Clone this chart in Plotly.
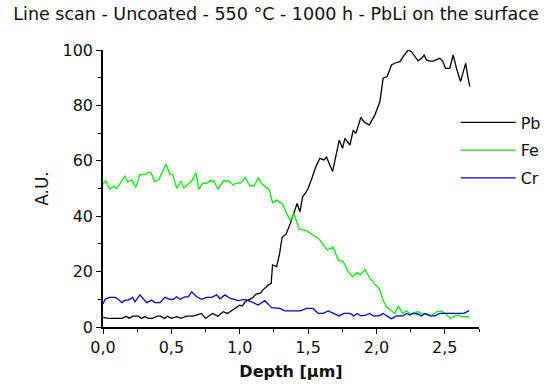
import plotly.graph_objects as go

# ---- Data ----
depth_pb = [0.00, 0.03, 0.07, 0.11, 0.14, 0.17, 0.19, 0.22, 0.26, 0.28, 0.31, 0.33, 0.36, 0.40,
            0.42, 0.45, 0.47, 0.50, 0.54, 0.57, 0.61, 0.66, 0.72, 0.75, 0.78, 0.80, 0.84, 0.88,
            0.91, 0.93, 0.94, 0.96, 1.00, 1.02, 1.04, 1.06, 1.09, 1.12, 1.15, 1.17, 1.21, 1.23,
            1.24, 1.27, 1.29, 1.31, 1.34, 1.37, 1.40, 1.42, 1.44, 1.46, 1.48, 1.50, 1.53, 1.557,
            1.586, 1.615, 1.635, 1.679, 1.728, 1.752, 1.769, 1.806, 1.83, 1.85, 1.886, 1.908,
            1.947, 1.988, 2.025, 2.049, 2.078, 2.11, 2.142, 2.171, 2.195, 2.232, 2.256, 2.28,
            2.305, 2.33, 2.349, 2.366, 2.386, 2.415, 2.44, 2.463, 2.483, 2.505, 2.536, 2.561,
            2.585, 2.615, 2.639, 2.653, 2.666, 2.683]
pb = [3.5, 3.2, 3.1, 3.1, 3.1, 3.9, 3.2, 3.9, 3.9, 3.1, 3.7, 3.1, 3.1, 3.9,
      3.9, 3.1, 3.9, 3.1, 3.7, 3.1, 3.9, 3.9, 4.9, 3.1, 4.3, 4.9, 3.9, 5.5,
      4.9, 5.5, 6.0, 6.7, 7.9, 7.6, 9.1, 9.7, 10.4, 11.9, 12.2, 13.4, 15.2, 15.7,
      22.4, 21.8, 26.0, 32.4, 33.6, 37.4, 41.6, 44.6, 41.6, 47.0, 48.3, 50.0, 54.0, 57.9,
      60.9, 60.3, 61.3, 56.1, 67.5, 64.5, 68.1, 65.7, 71.1, 69.9, 75.7, 74.1,
      72.9, 76.5, 81.3, 89.8, 90.4, 94.6, 95.4, 95.8, 97.6, 100.0, 99.4, 97.8,
      96.1, 97.0, 98.2, 96.4, 96.0, 96.0, 96.6, 97.0, 96.1, 93.4, 93.4, 98.2,
      93.4, 88.6, 92.8, 95.2, 91.0, 86.8]

depth_fe = [0.00, 0.02, 0.05, 0.08, 0.10, 0.16, 0.18, 0.21, 0.24, 0.27, 0.31, 0.33, 0.35, 0.38,
            0.41, 0.46, 0.49, 0.51, 0.54, 0.57, 0.59, 0.62, 0.65, 0.68, 0.70, 0.73, 0.76, 0.78,
            0.81, 0.84, 0.88, 0.92, 0.95, 0.98, 1.01, 1.04, 1.075, 1.106, 1.135, 1.164, 1.197,
            1.216, 1.24, 1.27, 1.314, 1.343, 1.372, 1.396, 1.435, 1.489, 1.537, 1.581, 1.64,
            1.683, 1.72, 1.757, 1.793, 1.825, 1.859, 1.884, 1.915, 1.952, 1.988, 2.025, 2.049,
            2.074, 2.098, 2.135, 2.159, 2.191, 2.22, 2.249, 2.273, 2.305, 2.337, 2.371, 2.403,
            2.44, 2.476, 2.507, 2.544, 2.573, 2.597, 2.634, 2.678]
fe = [51.6, 52.8, 49.7, 50.9, 49.9, 54.6, 52.3, 53.1, 50.4, 55.0, 55.0, 55.8, 55.8, 52.5,
      53.3, 58.8, 55.2, 54.9, 50.1, 52.7, 50.1, 51.3, 52.8, 55.7, 49.7, 51.9, 51.9, 52.8,
      52.8, 49.7, 52.7, 52.7, 51.3, 51.9, 52.1, 53.9, 51.0, 51.0, 53.9, 51.6, 50.1,
      49.5, 44.9, 45.8, 44.4, 41.0, 38.4, 41.0, 35.3, 34.8, 33.2, 31.7, 27.8,
      28.8, 24.2, 23.6, 20.0, 18.2, 19.6, 18.8, 20.8, 17.6, 15.5, 13.4, 9.5,
      7.3, 6.4, 4.9, 7.6, 4.9, 5.8, 4.7, 5.2, 5.5, 4.7, 4.7, 4.1,
      5.5, 5.8, 4.7, 3.0, 4.0, 4.3, 3.7, 3.7]

depth_cr = [0.00, 0.015, 0.046, 0.088, 0.112, 0.137, 0.161, 0.185, 0.217, 0.234, 0.27, 0.295,
            0.319, 0.356, 0.38, 0.417, 0.453, 0.49, 0.514, 0.539, 0.563, 0.599, 0.624, 0.648,
            0.685, 0.722, 0.758, 0.795, 0.831, 0.855, 0.892, 0.928, 0.989, 1.038, 1.087, 1.135,
            1.184, 1.233, 1.294, 1.33, 1.44, 1.489, 1.537, 1.574, 1.61, 1.647, 1.689, 1.727,
            1.762, 1.806, 1.835, 1.859, 1.886, 1.922, 1.952, 1.976, 2.02, 2.049, 2.076, 2.11,
            2.147, 2.193, 2.22, 2.244, 2.268, 2.303, 2.33, 2.354, 2.39, 2.427, 2.463, 2.561,
            2.639, 2.678]
cr = [8.3, 10.0, 10.7, 10.7, 10.0, 8.8, 9.7, 9.7, 10.7, 9.1, 11.6, 10.0,
      8.8, 9.7, 8.8, 8.8, 10.7, 10.0, 10.0, 10.9, 10.0, 10.9, 10.9, 12.7,
      10.9, 10.0, 10.7, 10.7, 11.6, 10.2, 11.6, 10.4, 9.5, 10.0, 9.1, 7.9,
      9.5, 7.0, 6.7, 5.8, 5.8, 6.7, 6.7, 4.9, 4.9, 5.8, 4.9, 4.0,
      4.9, 4.9, 4.0, 4.9, 4.0, 4.3, 4.9, 4.0, 4.0, 4.9, 4.0, 3.0,
      4.0, 4.0, 4.9, 4.3, 4.9, 4.7, 4.0, 4.9, 4.0, 4.0, 4.9, 4.9,
      4.9, 5.9]

x_tickvals = [0.0, 0.5, 1.0, 1.5, 2.0, 2.5]
x_ticktext = ["0,0", "0,5", "1,0", "1,5", "2,0", "2,5"]
y_tickvals = [0, 20, 40, 60, 80, 100]

title_text = "Line scan - Uncoated - 550 °C - 1000 h - PbLi on the surface"
FONT = "DejaVu Sans"

fig = go.Figure()
fig.add_trace(go.Scatter(x=depth_pb, y=pb, mode="lines", name="Pb", legendgroup="pb",
                         line=dict(color="#000000", width=1.3)))
fig.add_trace(go.Scatter(x=depth_fe, y=fe, mode="lines", name="Fe", legendgroup="fe",
                         line=dict(color="#00ee00", width=1.3)))
fig.add_trace(go.Scatter(x=depth_cr, y=cr, mode="lines", name="Cr", legendgroup="cr",
                         line=dict(color="#0000ee", width=1.3)))

fig.update_layout(
    width=552, height=392,
    margin=dict(l=103, r=73, t=50, b=65, autoexpand=False),
    paper_bgcolor="white", plot_bgcolor="white",
    font=dict(family=FONT, size=15, color="#111111"),
    title=dict(text=title_text, x=0.5, xanchor="center", y=1 - 14 / 392, yanchor="middle",
               font=dict(family=FONT, size=17.5, color="#111111")),
    separators=",.",
    showlegend=True,
    legend=dict(x=0.938, y=0.80, xanchor="left", yanchor="top", bgcolor="rgba(0,0,0,0)",
                font=dict(family=FONT, size=16), tracegroupgap=4, itemwidth=55,
                traceorder="grouped"),
    xaxis=dict(range=[0, 2.75], tickvals=x_tickvals, ticktext=x_ticktext,
               showgrid=False, zeroline=False, showline=True, linecolor="black", linewidth=1.5,
               ticks="outside", ticklen=5, tickwidth=1.2, tickcolor="black",
               minor=dict(dtick=0.25, ticks="outside", ticklen=3, tickcolor="black", tickwidth=1.2),
               tickfont=dict(size=16),
               title=dict(text="<b>Depth [µm]</b>", font=dict(size=16), standoff=10)),
    yaxis=dict(range=[0, 100], tickvals=y_tickvals,
               showgrid=False, zeroline=False, showline=True, linecolor="black", linewidth=1.5,
               ticks="outside", ticklen=5, tickwidth=1.2, tickcolor="black",
               minor=dict(dtick=10, ticks="outside", ticklen=3, tickcolor="black", tickwidth=1.2),
               tickfont=dict(size=16),
               title=dict(text="A.U.", font=dict(size=17), standoff=10)),
)

fig.write_html("out.html")
